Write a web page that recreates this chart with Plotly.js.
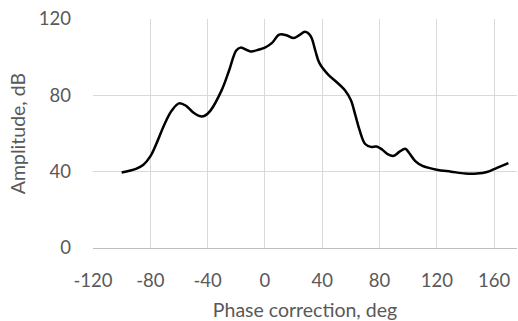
<!DOCTYPE html>
<html><head><meta charset="utf-8">
<script src="https://cdn.plot.ly/plotly-3.0.1.min.js"></script>
<style>html,body{margin:0;padding:0;background:#fff;}#chart{width:518px;height:321px;}</style>
</head><body><div id="chart"></div>
<script>
const phaseDeg = [-100,-90,-85,-80,-75,-70,-65,-60,-55,-50,-45,-42,-38,-30,-25,-20,-17,-10,-4,0,5,10,15,20,24,28,32,35,38,44,50,56,60,63,66,70,74,78,82,86,90,94,98,101,105,110,120,130,140,148,155,162,170];
const amplitudeDb = [39.6,41.5,43.5,48,56,65,72,75.8,74.5,71,69,69.3,72,83,93,103.5,105,103,104,105,107.5,111.8,111.5,110,111.5,113.3,111,104,97,91,87,82.5,77.5,70,62,54.5,53,53.2,51.5,49,48.3,50.5,52,49.5,45.5,43,41,40,39,39,39.8,42,44.5];
const xTicks = [-120,-80,-40,0,40,80,120,160];
const yTicks = [0,40,80,120];

const fontFam = 'Lato, "Open Sans", sans-serif';
const grey = '#595959';
Plotly.newPlot('chart', [{
  x: phaseDeg, y: amplitudeDb, type: 'scatter', mode: 'lines',
  line: {color: '#000000', width: 2.5, shape: 'spline', smoothing: 1},
  hoverinfo: 'skip'
}], {
  width: 518, height: 321,
  margin: {l: 93, r: 1, t: 19, b: 73},
  paper_bgcolor: '#ffffff', plot_bgcolor: '#ffffff',
  showlegend: false,
  xaxis: {
    range: [-120, 176], tickvals: xTicks, ticktext: xTicks.map(String),
    showgrid: true, gridcolor: '#d9d9d9', gridwidth: 1,
    zeroline: false, showline: false, ticks: '',
    ticklabelstandoff: 19,
    tickfont: {family: fontFam, size: 18.5, color: grey},
    title: {text: 'Phase correction, deg', font: {family: fontFam, size: 19.5, color: grey}, standoff: 14}
  },
  yaxis: {
    range: [0, 120], tickvals: yTicks, ticktext: yTicks.map(String),
    showgrid: true, gridcolor: '#d9d9d9', gridwidth: 1,
    zeroline: true, zerolinecolor: '#bfbfbf', zerolinewidth: 1,
    showline: false, ticks: '',
    ticklabelstandoff: 21,
    tickfont: {family: fontFam, size: 18.5, color: grey},
    title: {text: 'Amplitude, dB', font: {family: fontFam, size: 19.5, color: grey}, standoff: 7}
  }
}, {staticPlot: true, displayModeBar: false});
</script></body></html>
